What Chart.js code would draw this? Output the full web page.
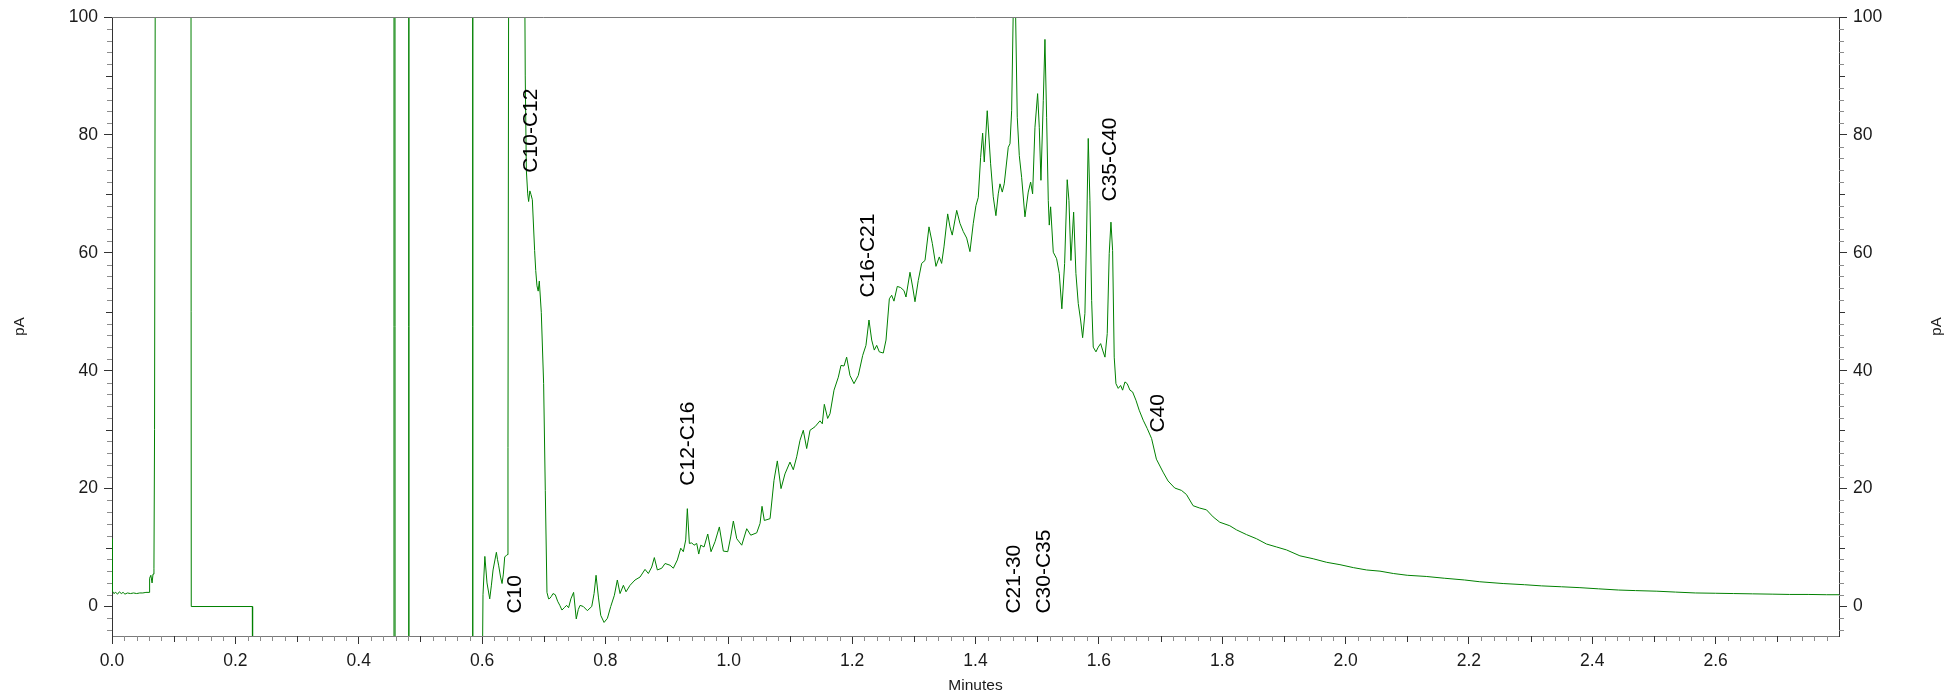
<!DOCTYPE html>
<html>
<head>
<meta charset="utf-8">
<title>Chromatogram</title>
<script src="https://cdn.jsdelivr.net/npm/chart.js@4.4.1/dist/chart.umd.min.js"></script>
<style>
    html, body { margin: 0; padding: 0; background: #ffffff; }
    #wrap { width: 1952px; height: 698px; position: relative; }
</style>
</head>
<body>
<div id="wrap"><canvas id="chromatogramChart"></canvas></div>
<script>
// Retention time (minutes) and detector signal (pA).
// Values outside -5..100 are off-scale excursions that get clipped.
const retentionTimes = [
    0.0000, 0.0008, 0.0030, 0.0060, 0.0090, 0.0120, 0.0150, 0.0180, 0.0210, 0.0250,
    0.0300, 0.0350, 0.0400, 0.0450, 0.0500, 0.0550, 0.0600, 0.0610, 0.0630, 0.0650,
    0.0665, 0.0680, 0.0690, 0.0700, 0.0710, 0.1280, 0.1285, 0.2275, 0.2280, 0.4570,
    0.4572, 0.4588, 0.4590, 0.4810, 0.4812, 0.4814, 0.5846, 0.5848, 0.5850, 0.5990,
    0.6015, 0.6045, 0.6080, 0.6124, 0.6150, 0.6178, 0.6232, 0.6250, 0.6270, 0.6300,
    0.6324, 0.6345, 0.6367, 0.6405, 0.6420, 0.6430, 0.6435, 0.6680, 0.6700, 0.6718,
    0.6740, 0.6755, 0.6775, 0.6793, 0.6815, 0.6852, 0.6870, 0.6890, 0.6910, 0.6928,
    0.6960, 0.6998, 0.7025, 0.7052, 0.7079, 0.7100, 0.7122, 0.7150, 0.7187, 0.7225,
    0.7260, 0.7295, 0.7333, 0.7370, 0.7403, 0.7440, 0.7484, 0.7527, 0.7560, 0.7589,
    0.7642, 0.7707, 0.7778, 0.7816, 0.7848, 0.7886, 0.7924, 0.7978, 0.8032, 0.8086,
    0.8145, 0.8193, 0.8237, 0.8291, 0.8334, 0.8399, 0.8480, 0.8561, 0.8642, 0.8696,
    0.8751, 0.8793, 0.8842, 0.8913, 0.8967, 0.9048, 0.9101, 0.9166, 0.9221, 0.9263,
    0.9302, 0.9328, 0.9361, 0.9399, 0.9437, 0.9480, 0.9513, 0.9545, 0.9599, 0.9659,
    0.9712, 0.9777, 0.9847, 0.9912, 0.9983, 1.0031, 1.0074, 1.0129, 1.0210, 1.0291,
    1.0356, 1.0453, 1.0507, 1.0539, 1.0576, 1.0669, 1.0733, 1.0787, 1.0847, 1.0911,
    1.0992, 1.1046, 1.1101, 1.1155, 1.1208, 1.1263, 1.1317, 1.1398, 1.1479, 1.1516,
    1.1549, 1.1603, 1.1641, 1.1706, 1.1776, 1.1819, 1.1868, 1.1911, 1.1965, 1.2030,
    1.2100, 1.2171, 1.2224, 1.2273, 1.2317, 1.2359, 1.2398, 1.2440, 1.2505, 1.2549,
    1.2603, 1.2641, 1.2678, 1.2732, 1.2787, 1.2840, 1.2873, 1.2938, 1.2981, 1.3019,
    1.3072, 1.3127, 1.3181, 1.3246, 1.3300, 1.3359, 1.3413, 1.3451, 1.3489, 1.3549,
    1.3586, 1.3623, 1.3695, 1.3748, 1.3802, 1.3857, 1.3910, 1.3964, 1.4007, 1.4045,
    1.4083, 1.4116, 1.4142, 1.4190, 1.4245, 1.4288, 1.4331, 1.4369, 1.4397, 1.4434,
    1.4466, 1.4531, 1.4559, 1.4586, 1.4612, 1.4630, 1.4651, 1.4677, 1.4710, 1.4748,
    1.4802, 1.4855, 1.4894, 1.4926, 1.4964, 1.5007, 1.5034, 1.5061, 1.5099, 1.5126,
    1.5153, 1.5180, 1.5196, 1.5218, 1.5261, 1.5315, 1.5358, 1.5400, 1.5445, 1.5487,
    1.5515, 1.5547, 1.5591, 1.5628, 1.5666, 1.5704, 1.5737, 1.5774, 1.5801, 1.5828,
    1.5855, 1.5883, 1.5909, 1.5953, 1.5990, 1.6029, 1.6061, 1.6099, 1.6136, 1.6168,
    1.6196, 1.6223, 1.6249, 1.6277, 1.6314, 1.6353, 1.6385, 1.6423, 1.6460, 1.6504,
    1.6547, 1.6601, 1.6654, 1.6719, 1.6784, 1.6855, 1.6933, 1.7041, 1.7122, 1.7230,
    1.7339, 1.7420, 1.7528, 1.7636, 1.7745, 1.7853, 1.7961, 1.8123, 1.8232, 1.8394,
    1.8556, 1.8719, 1.8881, 1.9043, 1.9260, 1.9476, 1.9693, 1.9909, 2.0126, 2.0342,
    2.0558, 2.0775, 2.1000, 2.1308, 2.1600, 2.1931, 2.2176, 2.2555, 2.2900, 2.3178,
    2.3500, 2.3800, 2.4100, 2.4424, 2.4700, 2.5047, 2.5350, 2.5670, 2.6000, 2.6293,
    2.6600, 2.6916, 2.7200, 2.7500, 2.7800, 2.8000,
];

const signalPA = [
    11.5, 2.6, 2.2, 2.4, 2.1, 2.5, 2.2, 2.4, 2.1, 2.3,
    2.2, 2.3, 2.2, 2.3, 2.3, 2.4, 2.4, 4.8, 5.3, 4.0,
    5.5, 6.5, 30, 100, 130, 130, 0, 0, -30, -30,
    130, 130, -30, -30, 130, -30, -30, 130, -30, -30,
    2.0, 8.5, 4.0, 1.3, 3.5, 6.2, 9.2, 8.0, 6.9, 5.0,
    3.9, 5.5, 8.4, 8.8, 27, 100, 130, 130, 90, 74,
    70, 68.7, 70.5, 69.9, 69.0, 60.4, 57.0, 54.4, 53.5, 55.2,
    49.9, 37.8, 19.7, 2.4, 1.3, 1.4, 1.7, 2.2, 2.0, 0.9,
    0.2, -0.6, -0.2, 0.2, -0.2, 1.3, 2.4, -2.1, -0.5, 0.2,
    0.0, -0.7, 0.0, 2.2, 5.3, 1.6, -1.5, -2.7, -2.0, 0.0,
    1.9, 4.5, 2.2, 3.6, 2.5, 3.6, 4.5, 5.0, 6.3, 5.6,
    6.7, 8.3, 6.2, 6.5, 7.3, 7.0, 6.5, 7.9, 9.9, 9.3,
    11.3, 16.6, 10.7, 10.8, 10.4, 10.7, 8.9, 10.4, 10.1, 12.3,
    9.3, 11.0, 13.5, 9.4, 9.3, 11.8, 14.5, 11.5, 10.4, 13.2,
    12.1, 12.5, 14.1, 17.0, 14.6, 14.9, 21.4, 24.7, 20.0, 22.5,
    24.5, 23.2, 25.4, 28.2, 29.9, 26.8, 29.9, 30.5, 31.5, 31.0,
    34.3, 31.9, 32.7, 36.7, 38.9, 40.9, 40.8, 42.3, 39.2, 37.8,
    39.2, 42.6, 44.3, 48.6, 45.2, 43.5, 44.3, 43.2, 43.0, 45.2,
    52.2, 52.8, 51.8, 54.3, 54.1, 53.6, 52.5, 56.7, 54.2, 51.7,
    55.3, 58.2, 58.7, 64.4, 61.6, 57.7, 59.3, 58.2, 61.0, 66.6,
    64.4, 63.0, 67.2, 65.0, 63.6, 62.5, 60.2, 65.0, 68.0, 69.4,
    76.2, 80.3, 75.4, 84.1, 75.1, 69.5, 66.3, 70.0, 71.7, 70.3,
    71.7, 77.9, 78.5, 84.1, 101, 103, 100, 83.0, 76.5, 72.8,
    66.1, 70.3, 72.0, 70.0, 81.3, 87.0, 81.3, 72.3, 85.8, 96.2,
    83.0, 68.9, 64.7, 67.8, 60.1, 59.0, 56.5, 50.5, 58.2, 72.4,
    68.9, 58.7, 66.9, 56.5, 51.4, 48.6, 45.6, 49.7, 63.2, 79.4,
    68.9, 51.9, 44.0, 43.2, 44.0, 44.6, 43.5, 42.3, 46.3, 59.9,
    65.2, 60.4, 42.3, 37.8, 37.0, 37.5, 36.7, 38.1, 37.8, 36.7,
    36.4, 35.0, 33.3, 31.6, 30.2, 28.5, 25.0, 22.8, 21.3, 20.1,
    19.7, 19.0, 17.1, 16.7, 16.4, 15.2, 14.3, 13.7, 13.0, 12.2,
    11.5, 10.6, 10.1, 9.6, 8.6, 8.1, 7.5, 7.1, 6.6, 6.2,
    6.0, 5.6, 5.3, 5.1, 4.8, 4.5, 4.2, 3.9, 3.7, 3.5,
    3.35, 3.2, 3.0, 2.8, 2.7, 2.6, 2.45, 2.3, 2.25, 2.2,
    2.15, 2.1, 2.05, 2.05, 2.0, 2.0,
];

// Axis tick labels
const timeTicks = [0.0, 0.2, 0.4, 0.6, 0.8, 1.0, 1.2, 1.4, 1.6, 1.8, 2.0, 2.2, 2.4, 2.6];
const signalTicks = [0, 20, 40, 60, 80, 100];

// Carbon-range annotations: text, retention time, signal level where the text starts
const peakLabels = ["C10", "C10-C12", "C12-C16", "C16-C21", "C21-30", "C30-C35", "C35-C40", "C40"];
const peakLabelTimes = [0.654, 0.680, 0.9345, 1.2264, 1.462, 1.512, 1.619, 1.696];
const peakLabelLevels = [-1.2, 73.6, 20.5, 52.4, -1.2, -1.2, 68.7, 29.5];

const colors = {
    trace: "#008000",
    text: "#1a1a1a",
    axisDark: "#333333",
    axisLight: "#7a7a7a",
    minorTick: "#8c8c8c",
};
const fontFamily = "'Liberation Sans', Arial, Helvetica, sans-serif";

// Draws the frame top, minor ticks, y titles and the peak labels
const chromatogramExtras = {
    id: "chromatogramExtras",
    afterDraw(chart) {
        const { ctx, chartArea } = chart;
        const xScale = chart.scales.x;
        const yScale = chart.scales.y;
        const crisp = (v) => Math.round(v) + 0.5;

        ctx.save();
        ctx.lineWidth = 1;

        // top frame line
        ctx.strokeStyle = colors.axisLight;
        ctx.beginPath();
        ctx.moveTo(chartArea.left, crisp(chartArea.top));
        ctx.lineTo(chartArea.right, crisp(chartArea.top));
        ctx.stroke();

        // minor ticks on the time axis (every 0.02 min)
        for (let i = 1; i < 140; i++) {
            if (i % 10 === 0) continue;
            const px = crisp(xScale.getPixelForValue(i * 0.02));
            ctx.strokeStyle = i % 5 === 0 ? colors.axisDark : colors.minorTick;
            ctx.beginPath();
            ctx.moveTo(px, chartArea.bottom);
            ctx.lineTo(px, chartArea.bottom + (i % 5 === 0 ? 6 : 5));
            ctx.stroke();
        }

        // minor ticks on both signal axes (every 2 pA)
        for (let v = -4; v < 100; v += 2) {
            if (v % 20 === 0) continue;
            const py = crisp(yScale.getPixelForValue(v));
            const len = v % 10 === 0 ? 6 : 5;
            ctx.strokeStyle = v % 10 === 0 ? colors.axisDark : colors.minorTick;
            ctx.beginPath();
            ctx.moveTo(chartArea.left - len, py);
            ctx.lineTo(chartArea.left, py);
            ctx.moveTo(chartArea.right, py);
            ctx.lineTo(chartArea.right + len, py);
            ctx.stroke();
        }

        // y axis titles
        const midY = (chartArea.top + chartArea.bottom) / 2;
        ctx.fillStyle = colors.text;
        ctx.font = "15px " + fontFamily;
        ctx.textAlign = "center";
        ctx.textBaseline = "middle";
        [20, 1937].forEach((tx) => {
            ctx.save();
            ctx.translate(tx, midY);
            ctx.rotate(-Math.PI / 2);
            ctx.fillText("pA", 0, 0);
            ctx.restore();
        });

        // peak range labels
        ctx.fillStyle = "#000000";
        ctx.font = "21px " + fontFamily;
        ctx.textAlign = "left";
        ctx.textBaseline = "middle";
        peakLabels.forEach((label, i) => {
            ctx.save();
            ctx.translate(xScale.getPixelForValue(peakLabelTimes[i]), yScale.getPixelForValue(peakLabelLevels[i]));
            ctx.rotate(-Math.PI / 2);
            ctx.fillText(label, 0, 0);
            ctx.restore();
        });

        ctx.restore();
    },
};

const signalAxis = (position, width) => ({
    type: "linear",
    position: position,
    min: -5,
    max: 100,
    afterBuildTicks: (scale) => {
        scale.ticks = signalTicks.map((v) => ({ value: v }));
    },
    afterFit: (scale) => {
        scale.width = width;
        scale.paddingTop = 0;
        scale.paddingBottom = 0;
    },
    ticks: {
        color: colors.text,
        font: { family: fontFamily, size: 17.5 },
        padding: 6,
    },
    grid: {
        drawOnChartArea: false,
        drawTicks: true,
        tickLength: 8,
        tickColor: colors.axisDark,
    },
    border: { color: colors.axisDark, width: 1 },
});

const points = retentionTimes.map((t, i) => ({ x: t, y: signalPA[i] }));

const chromatogramCtx = document.getElementById("chromatogramChart").getContext("2d");
new Chart(chromatogramCtx, {
    type: "line",
    data: {
        datasets: [
            {
                data: points,
                borderColor: colors.trace,
                borderWidth: 1,
                pointRadius: 0,
                tension: 0,
                fill: false,
            },
        ],
    },
    options: {
        responsive: true,
        maintainAspectRatio: false,
        animation: false,
        layout: { padding: { top: 17, left: 0, right: 0, bottom: 0 } },
        plugins: {
            legend: { display: false },
            tooltip: { enabled: false },
        },
        scales: {
            x: {
                type: "linear",
                min: 0,
                max: 2.8,
                afterBuildTicks: (scale) => {
                    scale.ticks = timeTicks.map((v) => ({ value: v }));
                },
                afterFit: (scale) => {
                    scale.height = 62;
                    scale.paddingLeft = 0;
                    scale.paddingRight = 0;
                },
                ticks: {
                    color: colors.text,
                    font: { family: fontFamily, size: 17.5 },
                    padding: 7,
                    maxRotation: 0,
                    autoSkip: false,
                    callback: (value) => Number(value).toFixed(1),
                },
                grid: {
                    drawOnChartArea: false,
                    drawTicks: true,
                    tickLength: 8,
                    tickColor: colors.axisDark,
                },
                border: { color: colors.axisLight, width: 1 },
                title: {
                    display: true,
                    text: "Minutes",
                    color: colors.text,
                    font: { family: fontFamily, size: 15.5 },
                    padding: { top: 0, bottom: 3 },
                },
            },
            y: signalAxis("left", 112),
            y2: signalAxis("right", 113),
        },
    },
    plugins: [chromatogramExtras],
});
</script>
</body>
</html>
